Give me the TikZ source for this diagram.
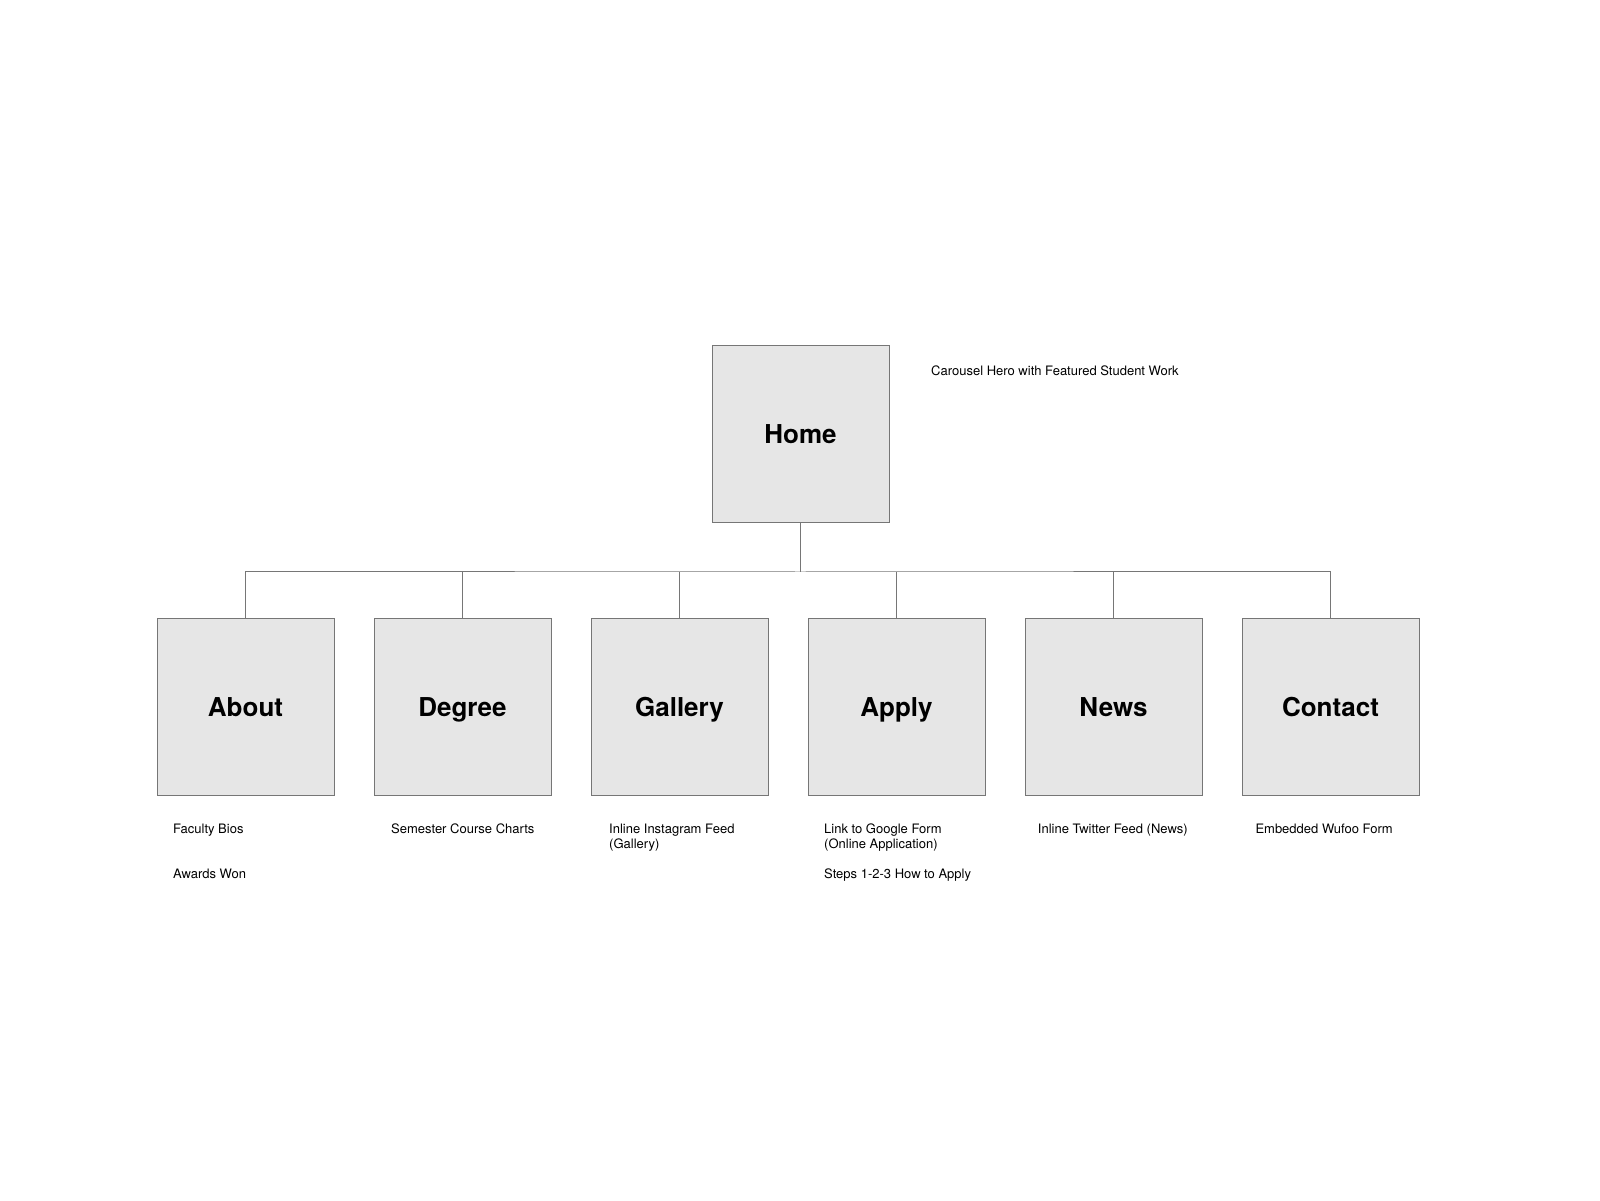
\documentclass[tikz,border=0pt]{standalone}
\usepackage{fontspec}
\setmainfont{TeX Gyre Heros}
\usepackage{tikz}
\usetikzlibrary{calc}

\definecolor{boxfill}{HTML}{E6E6E6}
\definecolor{boxline}{HTML}{767676}

\begin{document}
\begin{tikzpicture}[x=1pt,y=1pt,
    pagebox/.style={draw=boxline,fill=boxfill,line width=1pt,minimum size=177pt,inner sep=0,
        text height=18.7pt,text depth=0pt,font=\fontsize{26}{30}\selectfont\bfseries},
    note/.style={anchor=base west,inner sep=0,align=left,font=\fontsize{13}{15}\selectfont},
    link/.style={draw=boxline,line width=1pt}]
    \useasboundingbox (0,0) rectangle (1600,1200);

    \node[pagebox] (home) at (800.5,766) {Home};
    \node[note] (homenote) at (931,824) {Carousel Hero with Featured Student Work};

    \node[pagebox] (about) at (245.5,493) {About};
    \node[note] (aboutbios) at (173,366.5) {Faculty Bios};
    \node[note] (aboutawards) at (173,321.5) {Awards Won};

    \node[pagebox] (degree) at (462.5,493) {Degree};
    \node[note] (degreecharts) at (391,366.5) {Semester Course Charts};

    \node[pagebox] (gallery) at (679.5,493) {Gallery};
    % base anchor of a two-line note sits on its last line
    \node[note] (galleryfeed) at (609,351.5) {Inline Instagram Feed\\(Gallery)};

    \node[pagebox] (apply) at (896.5,493) {Apply};
    \node[note] (applyform) at (824,351.5) {Link to Google Form\\(Online Application)};
    \node[note] (applysteps) at (824,321.5) {Steps 1-2-3 How to Apply};

    \node[pagebox] (news) at (1113.5,493) {News};
    \node[note] (newsfeed) at (1037.7,366.5) {Inline Twitter Feed (News)};

    \node[pagebox] (contact) at (1330.5,493) {Contact};
    \node[note] (contactform) at (1255.3,366.5) {Embedded Wufoo Form};

    \coordinate (bus) at (800.5,628);
    \draw[link] (home.south) -- (bus);
    \draw[link] (about.north) |- (bus) -| (contact.north);
    \draw[link] (degree.north) -- (degree.north |- bus);
    \draw[link] (gallery.north) -- (gallery.north |- bus);
    \draw[link] (apply.north) -- (apply.north |- bus);
    \draw[link] (news.north) -- (news.north |- bus);
\end{tikzpicture}
\end{document}
